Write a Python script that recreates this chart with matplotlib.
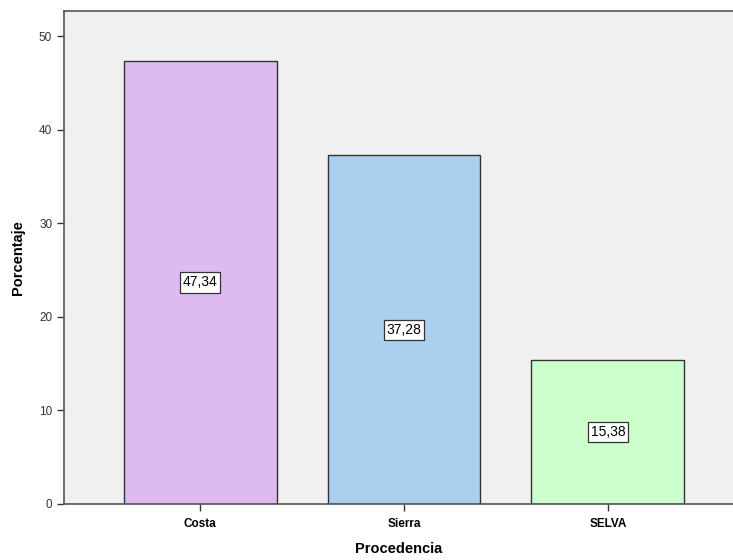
import matplotlib
matplotlib.use("Agg")
import matplotlib.pyplot as plt

plt.rcParams['font.family'] = ['Liberation Sans', 'DejaVu Sans']

categorias = ["Costa", "Sierra", "SELVA"]
porcentajes = [47.34, 37.28, 15.38]
etiquetas = ["47,34", "37,28", "15,38"]
colores = ["#ddbaf2", "#abcfee", "#ccffcc"]
yticks = [0, 10, 20, 30, 40, 50]

fig = plt.figure(figsize=(7.33, 5.6), dpi=100)
ax = fig.add_axes([0.0873, 0.1, 0.9127, 0.881])
ax.set_facecolor("#f0f0f0")

x = range(len(categorias))
ax.bar(x, porcentajes, width=0.75, color=colores, edgecolor="#333333", linewidth=1.0, zorder=2)

# valor de cada barra en un recuadro a media altura
for i, (v, t) in enumerate(zip(porcentajes, etiquetas)):
    ax.text(i, v / 2, t, ha="center", va="center", fontsize=10, color="black",
            bbox=dict(boxstyle="square,pad=0.22", facecolor="white", edgecolor="#333333", linewidth=0.9),
            zorder=3)

ax.set_xlim(-0.667, 2.613)
ax.set_ylim(0, 52.72)
ax.set_xticks(list(x))
ax.set_xticklabels(categorias, fontsize=8.5, fontweight="bold")
ax.set_yticks(yticks)
ax.set_yticklabels([str(t) for t in yticks], fontsize=8.5, color="#333333")
ax.tick_params(axis="both", length=5, width=1.0, color="#333333")
ax.tick_params(axis="x", pad=5)

for side in ["left", "bottom", "top"]:
    ax.spines[side].set_color("#555555")
    ax.spines[side].set_linewidth(1.2)
ax.spines["right"].set_visible(False)

ax.set_xlabel("Procedencia", fontsize=10.5, fontweight="bold", labelpad=9)
ax.set_ylabel("Porcentaje", fontsize=10.5, fontweight="bold", labelpad=10)

fig.savefig("out.png", dpi=100)
